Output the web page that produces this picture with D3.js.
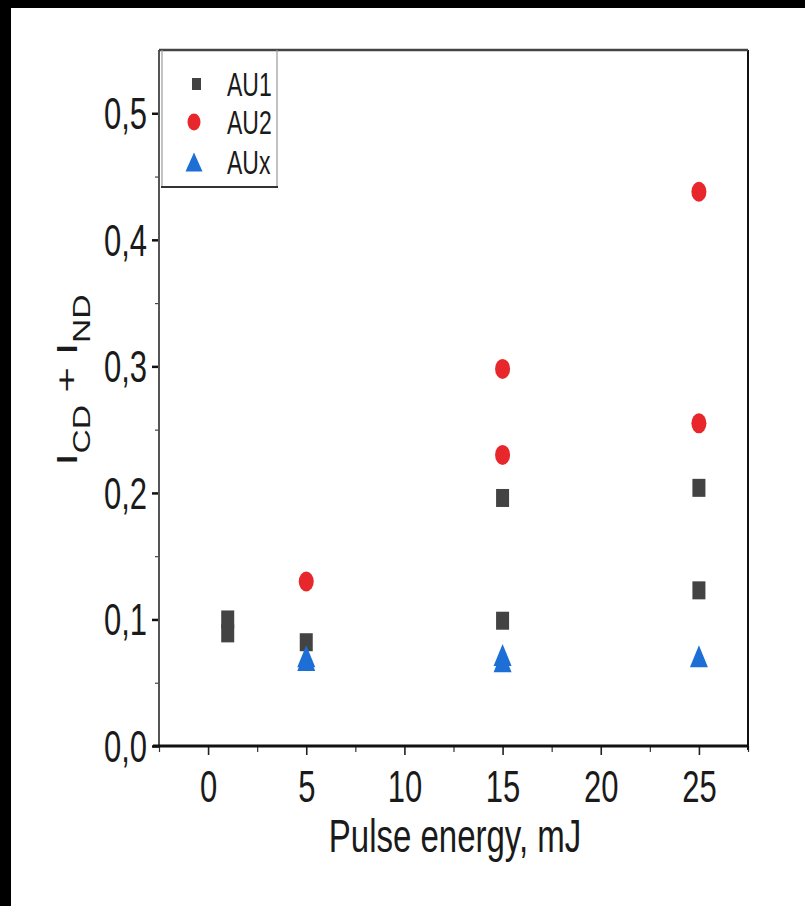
<!DOCTYPE html>
<html>
<head>
<meta charset="utf-8">
<script src="https://cdn.jsdelivr.net/npm/d3@7"></script>
<style>
  body { margin: 0; background: #fff; }
  svg { display: block; font-family: "Liberation Sans", Arial, sans-serif; }
</style>
</head>
<body>
<script>
// data
var xTicks = [0, 5, 10, 15, 20, 25];
var xMinor = [-2.5, 2.5, 7.5, 12.5, 17.5, 22.5, 27.5];
var yTicks = [0, 0.1, 0.2, 0.3, 0.4, 0.5];
var yMinor = [0.05, 0.15, 0.25, 0.35, 0.45];
var yTickLabels = ["0,0", "0,1", "0,2", "0,3", "0,4", "0,5"];

var au1X = [1, 1, 5, 15, 15, 25, 25];
var au1Y = [0.100, 0.089, 0.082, 0.196, 0.099, 0.204, 0.123];
var au2X = [5, 15, 15, 25, 25];
var au2Y = [0.130, 0.298, 0.230, 0.438, 0.255];
var auxX = [5, 5, 15, 15, 25];
var auxY = [0.071, 0.068, 0.072, 0.067, 0.071];

var seriesNames = ["AU1", "AU2", "AUx"];

var W = 805, H = 906;
var pLeft = 159, pRight = 748, pTop = 50, pBottom = 746;
var stretch = 1.42; // picture is stretched vertically

var svg = d3.select("body").append("svg").attr("width", W).attr("height", H);

svg.append("rect").attr("width", W).attr("height", H).attr("fill", "#fff");
// black strips on the top and left edge of the picture
svg.append("rect").attr("x", 0).attr("y", 0).attr("width", W).attr("height", 8).attr("fill", "#000");
svg.append("rect").attr("x", 0).attr("y", 0).attr("width", 11).attr("height", H).attr("fill", "#000");

var x = d3.scaleLinear().domain([-2.5, 27.5]).range([pLeft, pRight]);
var y = d3.scaleLinear().domain([0, 0.55]).range([pBottom, pTop]);

// bottom axis, majors
var gx = svg.append("g").attr("transform", "translate(0," + pBottom + ")")
  .call(d3.axisBottom(x).tickValues(xTicks).tickSize(9).tickSizeOuter(0).tickFormat(d3.format("d")));
gx.select(".domain").remove();
gx.selectAll(".tick line").attr("stroke", "#222").attr("stroke-width", 1.6);
gx.selectAll(".tick text")
  .attr("y", null).attr("dy", null)
  .attr("transform", "translate(0,56) scale(1," + stretch + ")")
  .attr("font-size", 31).attr("fill", "#1a1a1a");

// bottom axis, minors
var gxm = svg.append("g").attr("transform", "translate(0," + pBottom + ")")
  .call(d3.axisBottom(x).tickValues(xMinor).tickSize(6).tickSizeOuter(0).tickFormat(""));
gxm.select(".domain").remove();
gxm.selectAll(".tick line").attr("stroke", "#333").attr("stroke-width", 1.2);

// left axis, majors
var gy = svg.append("g").attr("transform", "translate(" + pLeft + ",0)")
  .call(d3.axisLeft(y).tickValues(yTicks).tickSize(7).tickSizeOuter(0)
    .tickFormat(function(d, i) { return yTickLabels[i]; }));
gy.select(".domain").remove();
gy.selectAll(".tick line").attr("stroke", "#111").attr("stroke-width", 2.5);
gy.selectAll(".tick text")
  .attr("x", null).attr("dy", null)
  .attr("text-anchor", "end")
  .attr("transform", "translate(-12,15.5) scale(1," + stretch + ")")
  .attr("font-size", 31).attr("fill", "#1a1a1a");

// left axis, minors
var gym = svg.append("g").attr("transform", "translate(" + pLeft + ",0)")
  .call(d3.axisLeft(y).tickValues(yMinor).tickSize(4).tickSizeOuter(0).tickFormat(""));
gym.select(".domain").remove();
gym.selectAll(".tick line").attr("stroke", "#444").attr("stroke-width", 1.2);

// frame
svg.append("line").attr("x1", pLeft).attr("x2", pLeft).attr("y1", pTop).attr("y2", pBottom)
  .attr("stroke", "#555").attr("stroke-width", 2);
svg.append("line").attr("x1", pRight).attr("x2", pRight).attr("y1", pTop).attr("y2", pBottom + 4)
  .attr("stroke", "#111").attr("stroke-width", 2);
svg.append("line").attr("x1", pLeft).attr("x2", pRight).attr("y1", pTop).attr("y2", pTop)
  .attr("stroke", "#444").attr("stroke-width", 2.5);
svg.append("line").attr("x1", pLeft - 6).attr("x2", pRight + 1).attr("y1", pBottom).attr("y2", pBottom)
  .attr("stroke", "#111").attr("stroke-width", 3);

// markers
var sqW = 13, sqH = 18;
var tri = function(w, h) {
  return "M0," + (-h / 2) + "L" + (w / 2) + "," + (h / 2) + "L" + (-w / 2) + "," + (h / 2) + "Z";
};

svg.append("g").selectAll("rect.au1")
  .data(au1X.map(function(d, i) { return [d, au1Y[i]]; }))
  .enter().append("rect")
  .attr("class", "au1")
  .attr("x", function(d) { return x(d[0]) - sqW / 2; })
  .attr("y", function(d) { return y(d[1]) - sqH / 2; })
  .attr("width", sqW).attr("height", sqH)
  .attr("fill", "#434343");

svg.append("g").selectAll("ellipse.au2")
  .data(au2X.map(function(d, i) { return [d, au2Y[i]]; }))
  .enter().append("ellipse")
  .attr("class", "au2")
  .attr("cx", function(d) { return x(d[0]); })
  .attr("cy", function(d) { return y(d[1]); })
  .attr("rx", 7.5).attr("ry", 10)
  .attr("fill", "#e8272d");

svg.append("g").selectAll("path.aux")
  .data(auxX.map(function(d, i) { return [d, auxY[i]]; }))
  .enter().append("path")
  .attr("class", "aux")
  .attr("d", tri(18, 22))
  .attr("transform", function(d) { return "translate(" + x(d[0]) + "," + y(d[1]) + ")"; })
  .attr("fill", "#1d6fd6");

// legend
var lg = svg.append("g");
lg.append("line").attr("x1", 162).attr("x2", 162).attr("y1", pTop).attr("y2", 187).attr("stroke", "#999").attr("stroke-width", 1.2);
lg.append("line").attr("x1", 277).attr("x2", 277).attr("y1", pTop).attr("y2", 187).attr("stroke", "#999").attr("stroke-width", 1.2);
lg.append("line").attr("x1", 161).attr("x2", 278).attr("y1", 187).attr("y2", 187).attr("stroke", "#333").attr("stroke-width", 2);

var rowY = [84, 122, 162];
lg.append("rect").attr("x", 192).attr("y", rowY[0] - 6).attr("width", 9).attr("height", 12).attr("fill", "#434343");
lg.append("ellipse").attr("cx", 194).attr("cy", rowY[1]).attr("rx", 6.5).attr("ry", 8.5).attr("fill", "#e8272d");
lg.append("path").attr("d", tri(17, 19)).attr("transform", "translate(194," + rowY[2] + ")").attr("fill", "#1d6fd6");

lg.selectAll("text").data(seriesNames).enter().append("text")
  .attr("transform", function(d, i) { return "translate(227," + (rowY[i] + 12) + ") scale(1," + stretch + ")"; })
  .attr("font-size", 23).attr("fill", "#1a1a1a")
  .text(function(d) { return d; });

// axis titles
svg.append("text")
  .attr("transform", "translate(455,852) scale(1," + stretch + ")")
  .attr("text-anchor", "middle").attr("font-size", 33).attr("fill", "#1a1a1a")
  .text("Pulse energy, mJ");

var yt = svg.append("text")
  .attr("transform", "translate(77,380) scale(1,1.46) rotate(-90)")
  .attr("text-anchor", "middle").attr("font-size", 30).attr("fill", "#1a1a1a");
yt.append("tspan").text("I");
yt.append("tspan").attr("font-size", 23).attr("dy", 13).text("CD");
yt.append("tspan").attr("dy", -13).text(" + I");
yt.append("tspan").attr("font-size", 23).attr("dy", 13).text("ND");
</script>
</body>
</html>
